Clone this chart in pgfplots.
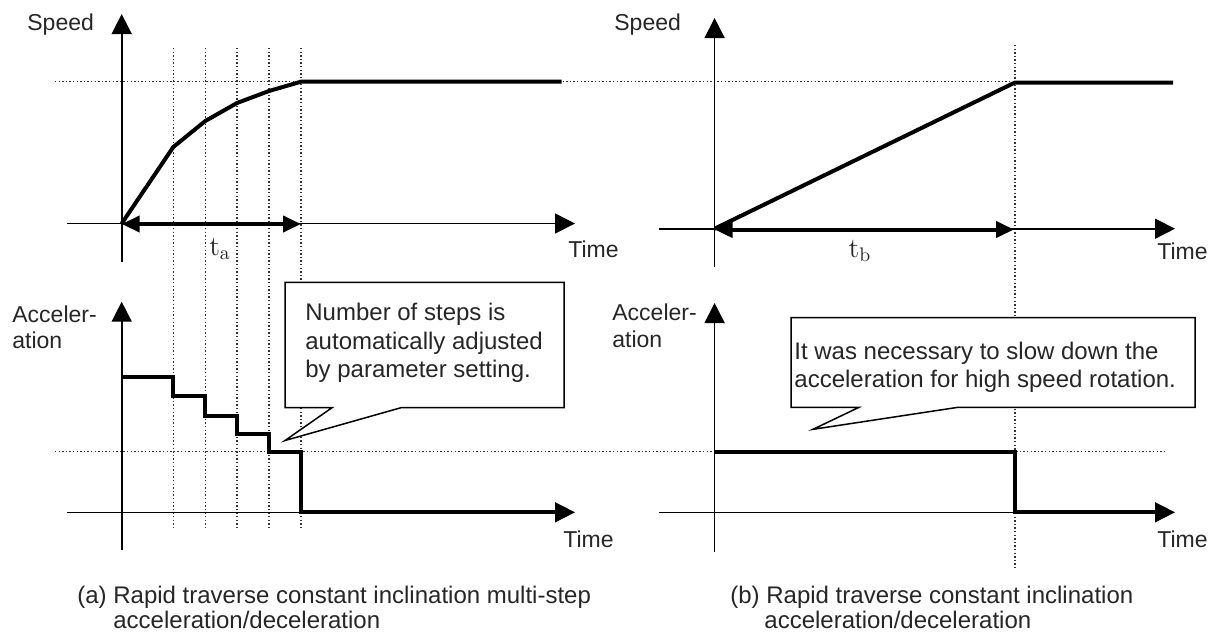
\documentclass[border=0pt]{standalone}
\usepackage{fontspec}
\setsansfont{Liberation Sans}
\usepackage{pgfplots}
\pgfplotsset{compat=1.18}
\usetikzlibrary{arrows.meta}

\tikzset{
  guide/.style={black!80, line width=0.7pt, dash pattern=on 0.7pt off 1.1pt},
  ax/.style={black, line width=0.8pt, -{Triangle[length=10pt,width=10pt]}},
  curve/.style={black, line width=2pt, line join=miter},
  span/.style={black, line width=2pt, {Triangle[length=9pt,width=8pt]}-{Triangle[length=9pt,width=8pt]}},
  callout/.style={black, line width=0.75pt, fill=white},
  lbl/.style={font=\sffamily\fontsize{11.5}{13}\selectfont, text=black!85, inner sep=0pt, anchor=base west},
  txt/.style={font=\sffamily\fontsize{12}{14}\selectfont, text=black!85, inner sep=0pt, anchor=base west},
}

\begin{document}
\begin{tikzpicture}
\begin{axis}[
    width=605pt, height=317pt, scale only axis,
    xmin=0, xmax=1210, ymin=0, ymax=634, y dir=reverse,
    hide axis, clip=false, no markers,
]

% dotted guide lines
\addplot[guide] coordinates {(55,81.7) (1015,81.7)};
\addplot[guide] coordinates {(55,451.7) (1165,451.7)};
\addplot[guide] coordinates {(173.3,48) (173.3,527)};
\addplot[guide] coordinates {(205.3,48) (205.3,527)};
\addplot[guide] coordinates {(237,48) (237,527)};
\addplot[guide] coordinates {(269,48) (269,527)};
\addplot[guide] coordinates {(301,48) (301,527)};
\addplot[guide] coordinates {(1015,45) (1015,570)};

% axes, panel (a)
\addplot[ax] coordinates {(121.7,262) (121.7,14)};
\addplot[ax] coordinates {(67,223.5) (575,223.5)};
\addplot[ax] coordinates {(121.7,550) (121.7,301.7)};
\addplot[ax] coordinates {(67,512.3) (575,512.3)};

% axes, panel (b)
\addplot[ax] coordinates {(714.6,267) (714.6,18)};
\addplot[ax] coordinates {(659,228.7) (1175,228.7)};
\addplot[ax] coordinates {(714.6,551.7) (714.6,303)};
\addplot[ax] coordinates {(659,512.3) (1175,512.3)};

% speed, multi-step
\addplot[curve] coordinates {(121.7,223.5) (173.3,147) (205.3,121) (237,103) (269,91) (301,81.7) (561.7,81.7)};
% acceleration, multi-step
\addplot[curve] coordinates {(121.7,376.7) (173.3,376.7) (173.3,395.7) (205.3,395.7) (205.3,416) (237,416) (237,434.3) (269,434.3) (269,451.7) (301,451.7) (301,512.3) (556,512.3)};

% speed, constant inclination
\addplot[curve] coordinates {(714.6,228.7) (1015,82.5) (1173,82.5)};
% acceleration, constant inclination
\addplot[curve] coordinates {(714.6,451.7) (1015,451.7) (1015,512.3) (1156,512.3)};

% time spans
\addplot[span] coordinates {(121.7,224) (301,224)};
\addplot[span] coordinates {(714.6,229.5) (1014,229.5)};

% callouts
\addplot[callout] coordinates {(285,282.3) (564,282.3) (564,407.7) (401,407.7) (285,440.5) (332,407.7) (285,407.7)} -- cycle;
\addplot[callout] coordinates {(791,317.7) (1195,317.7) (1195,407.3) (958,407.3) (813,429.3) (859,407.3) (791,407.3)} -- cycle;

% labels
\node[lbl] at (27,30) {Speed};
\node[lbl] at (614,30) {Speed};
\node[lbl] at (568,257) {Time};
\node[lbl] at (1157,259) {Time};
\node[lbl] at (12,322) {Acceler-};
\node[lbl] at (12,348) {ation};
\node[lbl] at (612,320) {Acceler-};
\node[lbl] at (612,347) {ation};
\node[lbl] at (563,547) {Time};
\node[lbl] at (1157,547) {Time};

\node[inner sep=0pt, font=\fontsize{14}{16}\selectfont, text=black!85] at (220,249) {$\mathrm{t}_{\mathrm{a}}$};
\node[inner sep=0pt, font=\fontsize{14}{16}\selectfont, text=black!85] at (860,251) {$\mathrm{t}_{\mathrm{b}}$};

\node[txt] at (305,320) {Number of steps is};
\node[txt] at (305,349) {automatically adjusted};
\node[txt] at (305,377.5) {by parameter setting.};
\node[txt] at (794,359.5) {It was necessary to slow down the};
\node[txt] at (794,387.5) {acceleration for high speed rotation.};

\node[txt] at (77,603) {(a) Rapid traverse constant inclination multi-step};
\node[txt] at (113,628) {acceleration/deceleration};
\node[txt] at (730,603) {(b) Rapid traverse constant inclination};
\node[txt] at (764,628) {acceleration/deceleration};

\end{axis}
\pgfresetboundingbox
\path[use as bounding box] (0,0) rectangle (605pt,317pt);
\end{tikzpicture}
\end{document}
